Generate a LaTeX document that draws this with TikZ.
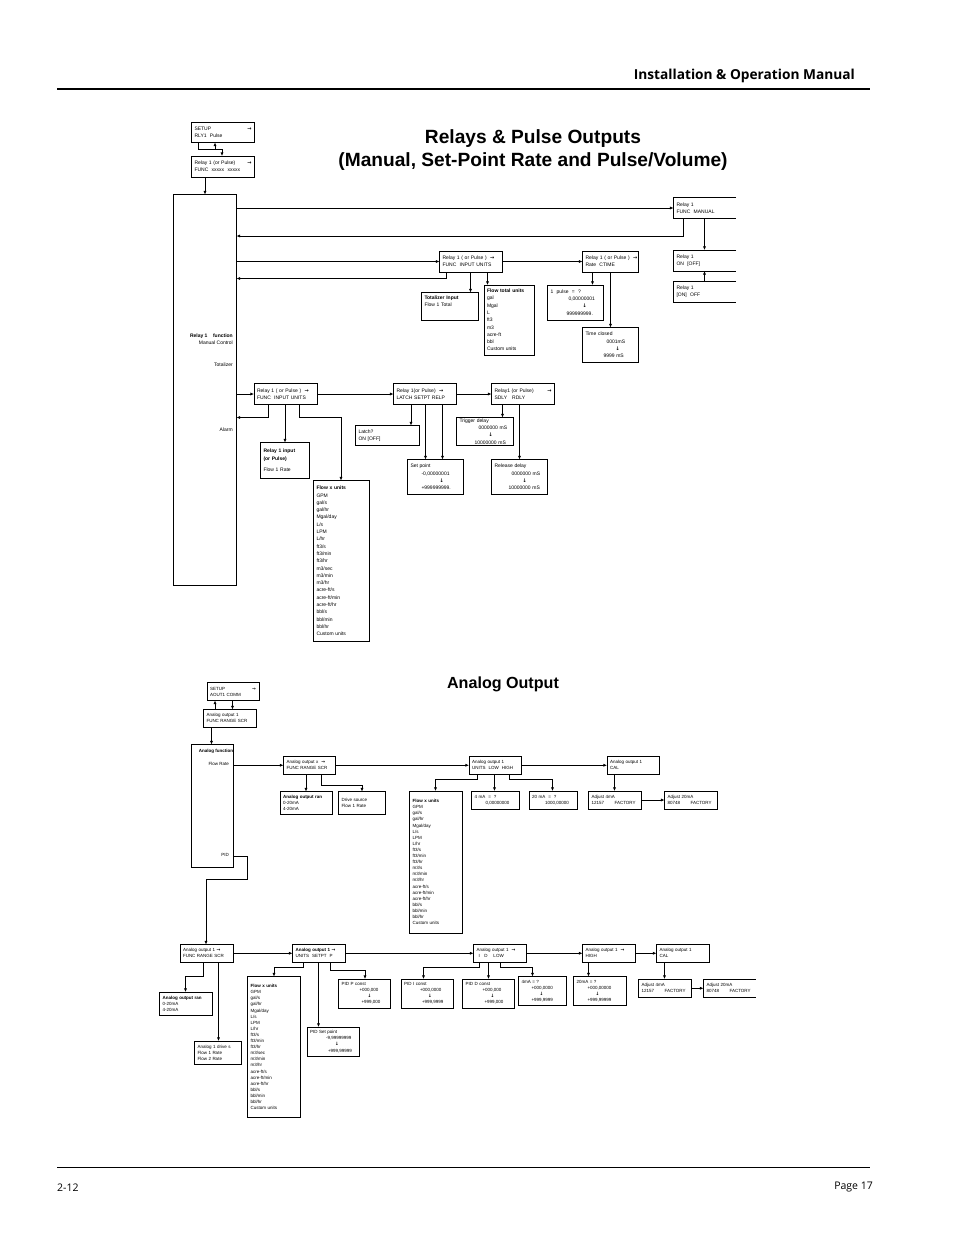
\documentclass[tikz,border=0pt]{standalone}
\usepackage{fontspec}
\usetikzlibrary{arrows.meta}
\setmainfont{Liberation Sans}
\newfontfamily\manualfont{Open Sans}
\newfontfamily\arrowfont{DejaVu Sans}
\newcommand{\relaytext}{\fontsize{5}{7.3}\selectfont}
\newcommand{\analogtext}{\fontsize{4.5}{6.1}\selectfont}
\newcommand{\ind}[1]{\hspace*{#1pt}}
\newcommand{\ra}{{\arrowfont\bfseries →}}
\newcommand{\da}{{\arrowfont\bfseries ↓}}
\tikzset{
  box/.style 2 args={draw,line width=.8pt,anchor=north west,outer sep=0pt,inner xsep=3pt,inner ysep=0pt,
    minimum width=#1pt,minimum height=#2pt,text width={#1pt-6pt},align=left,font=\relaytext},
  abox/.style 2 args={box={#1}{#2},font=\analogtext},
  openbox/.style 2 args={box={#1}{#2},draw=none},
  link/.style={-{Latex[length=3.6pt,width=3.2pt]},line width=.8pt},
  wire/.style={line width=.8pt},
  lab/.style={anchor=east,inner sep=0pt,font=\relaytext},
  alab/.style={anchor=east,inner sep=0pt,font=\analogtext}
}
\begin{document}
\begin{tikzpicture}[x=1pt,y=-1pt]
  \useasboundingbox (0,0) rectangle (954,1235);
  % page furniture
  \node[anchor=east,inner sep=0pt,font=\manualfont\bfseries\fontsize{13.7}{16}\selectfont] (manual) at (855,76) {Installation \& Operation Manual};
  \draw[line width=2pt] (57,89) -- (870,89);
  \draw[line width=.6pt] (57,1167) -- (870,1167);
  \node[anchor=west,inner sep=0pt,font=\manualfont\fontsize{10.5}{12}\selectfont] (pagecode) at (57,1188) {2-12};
  \node[anchor=east,inner sep=0pt,font=\manualfont\fontsize{10.5}{12}\selectfont] (pagenum) at (873,1187) {Page 17};
  % titles
  \node[inner sep=0pt,font=\bfseries\fontsize{19.15}{20}\selectfont] (title1) at (533,139) {Relays \& Pulse Outputs};
  \node[inner sep=0pt,font=\bfseries\fontsize{19.15}{20}\selectfont] (title2) at (533,162) {(Manual, Set-Point Rate and Pulse/Volume)};
  \node[inner sep=0pt,font=\bfseries\fontsize{16.1}{17}\selectfont] (title3) at (503,684) {Analog Output};

  % relay boxes
  \node[box={63}{20.5}] (setup) at (191.5,122) {SETUP\hfill\ra\ind{8}\\RLY1\ \ Pulse};
  \node[box={63}{21}] (rfunc) at (191.5,156) {Relay 1 (or Pulse)\hfill\ra\ind{2}\\FUNC\ \ xxxxx\ \ xxxxx};
  \node[box={63}{390.5}] (big) at (173.5,194.5) {};
  \node[lab,font=\relaytext\bfseries] (lrelay) at (233,336) {Relay 1\ \ \ \ function};
  \node[lab] (lmanual) at (233,343) {Manual Control};
  \node[lab] (ltotal) at (233,365) {Totalizer};
  \node[lab] (lalarm) at (233,430) {Alarm};
  \node[openbox={62.5}{21}] (rman) at (673.5,197.5) {Relay 1\\FUNC\ \ MANUAL};
  \node[box={63}{21}] (rtot) at (439.5,251) {Relay 1 ( or Pulse )\ \ \ra\\FUNC\ \ INPUT UNITS};
  \node[box={56}{21}] (rrate) at (582.5,251) {Relay 1 ( or Pulse )\rlap{\ \ \ra}\\Rate\ \ CTIME};
  \node[openbox={62.5}{21}] (ron) at (673.5,250) {Relay 1\\ON\ \ [OFF]};
  \node[openbox={62.5}{21}] (rdon) at (673.5,281.5) {Relay 1\\{[ON]}\ \ OFF};
  \node[box={57}{27.5}] (totin) at (421.5,292.5) {\textbf{Totalizer Input}\\Flow 1 Total\\[3pt]~};
  \node[box={50}{70}] (ftot) at (484,285) {\textbf{Flow total units}\\gal\\Mgal\\L\\ft3\\m3\\acre-ft\\bbl\\Custom units};
  \node[box={56}{35}] (pulse) at (547.5,285) {1\ \ pulse\ \ =\ \ ?\\\ind{18}0,00000001\\\ind{32}\da\\\ind{16}999999999.};
  \node[box={56}{35}] (closed) at (582.5,327.5) {Time closed\\\ind{21}0001mS\\\ind{30}\da\\\ind{18}9999 mS};
  \node[box={63}{21}] (ralarm) at (254,383.5) {Relay 1 ( or Pulse )\ \ \ra\\FUNC\ \ INPUT UNITS};
  \node[box={63}{21}] (rlatch) at (393.5,383.5) {Relay 1(or Pulse)\ \ \ra\\LATCH SETPT RELP};
  \node[box={63}{21}] (rdly) at (491.5,383.5) {Relay1\ (or Pulse)\hfill\ra\ind{3}\\SDLY\ \ \ RDLY};
  \node[box={49}{36}] (rinput) at (260.5,442.5) {\textbf{Relay 1 input}\\\textbf{(or Pulse)}\\[4pt]Flow 1 Rate};
  \node[box={56}{161}] (funit) at (313.5,480.5) {\textbf{Flow x units}\\GPM\\gal/s\\gal/hr\\Mgal/day\\L/s\\LPM\\L/hr\\ft3/s\\ft3/min\\ft3/hr\\m3/sec\\m3/min\\m3/hr\\acre-ft/s\\acre-ft/min\\acre-ft/hr\\bbl/s\\bbl/min\\bbl/hr\\Custom units};
  \node[box={63.5}{20}] (latch) at (355.5,425.5) {Latch?\\ON [OFF]};
  \node[box={56}{35}] (setpt) at (407.5,459.5) {Set point\\\ind{11}-0,00000001\\\ind{29}\da\\\ind{11}+999999999.};
  \node[box={56.5}{28}] (trig) at (456.5,417.5) {Trigger delay\\\ind{19}0000000 mS\\\ind{29}\da\\\ind{15}10000000 mS};
  \node[box={56}{35}] (rel) at (491.5,459.5) {Release delay\\\ind{17}0000000 mS\\\ind{28}\da\\\ind{14}10000000 mS};

  % relay connectors
  \draw[link] ([xshift=6.5pt]setup.south west) -- ++(0,7) -| ([xshift=30.5pt]rfunc.north west);
  \draw[link] ([xshift=23.5pt,yshift=6.5pt]rfunc.north west) -- ([xshift=23.5pt]setup.south west);
  \draw[link] ([xshift=13.5pt]rfunc.south west) -- ([xshift=31.5pt]big.north west);
  \draw[link] (big.east |- rman.west) -- (rman.west);
  \draw[link] ([xshift=10pt]rman.south west) -- ++(0,17.5) -- (big.east |- 0,236);
  \draw[link] ([xshift=31pt]rman.south west) -- ([xshift=31pt]ron.north west);
  \draw[link] ([xshift=31pt]rdon.north west) -- ([xshift=31pt]ron.south west);
  \draw[link] (big.east |- rtot.west) -- (rtot.west);
  \draw[link] ([xshift=6.5pt]rtot.south west) -- ++(0,6.5) -- (big.east |- 0,278.5);
  \draw[link] (rtot.east) -- (rrate.west);
  \draw[link] ([xshift=31pt]rtot.south west) -- ([xshift=49pt]totin.north west);
  \draw[link] ([xshift=48pt]rtot.south west) -- ([xshift=3.5pt]ftot.north west);
  \draw[link] ([xshift=10pt]rrate.south west) -- ([xshift=45pt]pulse.north west);
  \draw[link] ([xshift=28pt]rrate.south west) -- (closed.north);
  \draw[link] (big.east |- ralarm.west) -- (ralarm.west);
  \draw[link] ([xshift=14.5pt]ralarm.south west) -- ++(0,13) -- (big.east |- 0,417.5);
  \draw[link] ([xshift=31pt]ralarm.south west) -- ([xshift=24.5pt]rinput.north west);
  \draw[link] ([xshift=45pt]ralarm.south west) -- ++(0,13) -| ([xshift=27.5pt]funit.north west);
  \draw[link] (ralarm.east) -- (rlatch.west);
  \draw[link] (rlatch.east) -- (rdly.west);
  \draw[link] ([xshift=17.5pt]rlatch.south west) -- ([xshift=55.5pt]latch.north west);
  \draw[link] ([xshift=32pt]rlatch.south west) -- ([xshift=18pt]setpt.north west);
  \draw[link] ([xshift=49pt]rlatch.south west) -- ([xshift=35pt]setpt.north west);
  \draw[link] ([xshift=11pt]rdly.south west) -- ([xshift=46pt]trig.north west);
  \draw[link] ([xshift=28pt]rdly.south west) -- (rel.north);

  % analog boxes
  \node[abox={52}{18}] (asetup) at (207,682.5) {SETUP\hfill\ra\ind{9}\\AOUT1 COMM};
  \node[abox={53}{17.5}] (afunc) at (203.5,709.5) {Analog output 1\\FUNC RANGE SCR};
  \node[abox={42}{123}] (abig) at (191.5,744.5) {};
  \node[alab,font=\analogtext\bfseries] (lanalog) at (233.3,751) {Analog function};
  \node[alab] (lrate) at (229,763.5) {Flow Rate};
  \node[alab] (lpid) at (229,855) {PID};
  \node[abox={52}{17.5}] (aoutx) at (283.5,756.5) {Analog output x\ \ \ra\\FUNC RANGE SCR};
  \node[abox={52}{17.5}] (aunits) at (469,756.5) {Analog output 1\\UNITS\ \ LOW\ \ HIGH};
  \node[abox={52.5}{17.5}] (acal) at (607,756.5) {Analog output 1\\CAL};
  \node[abox={52.5}{23}] (arange) at (280,791.5) {\textbf{Analog output ran}\\0-20mA\\4-20mA};
  \node[abox={47}{23}] (adrive) at (338.5,791.5) {Drive source\\Flow 1 Rate};
  \node[abox={53}{142}] (aflow) at (409.5,791) {\textbf{Flow x units}\\GPM\\gal/s\\gal/hr\\Mgal/day\\L/s\\LPM\\L/hr\\ft3/s\\ft3/min\\ft3/hr\\m3/s\\m3/min\\m3/hr\\acre-ft/s\\acre-ft/min\\acre-ft/hr\\bbl/s\\bbl/min\\bbl/hr\\Custom units};
  \node[abox={47.5}{18}] (afour) at (471.5,791) {4 mA\ \ =\ \ ?\\\ind{11}0,00000000};
  \node[abox={48}{18}] (atwenty) at (529,791) {20 mA\ \ =\ \ ?\\\ind{13}1000,00000};
  \node[abox={53}{18}] (aadja) at (588.5,791) {Adjust 4mA\\12157\ \ \ \ \ \ \ FACTORY};
  \node[abox={53}{18}] (aadjb) at (664.5,791) {Adjust 20mA\\80748\ \ \ \ \ \ \ FACTORY};
  \node[abox={53}{17.5}] (arel) at (180,944.5) {Analog output 1 \ra\\FUNC RANGE SCR};
  \node[abox={52.5}{17.5}] (apid) at (292.5,944.5) {\textbf{Analog output 1} \ra\\UNITS\ \ SETPT\ \ P};
  \node[abox={53}{17.5}] (ai) at (473.5,944.5) {Analog output 1\ \ \ra\\\ind{2}I\ \ \ D\ \ \ \ LOW};
  \node[abox={52.5}{17.5}] (ahigh) at (582.5,944.5) {Analog output 1\ \ \ra\\HIGH};
  \node[abox={53}{17.5}] (acalb) at (656.5,944.5) {Analog output 1\\CAL};
  \node[abox={53}{23}] (arangeb) at (159.5,992) {\textbf{Analog output ran}\\0-20mA\\4-20mA};
  \node[abox={47}{23.5}] (adrv) at (194.5,1041) {Analog 1 drive s\\Flow 1 Rate\\Flow 2 Rate};
  \node[abox={53}{141}] (pflow) at (247.5,976.5) {\textbf{Flow x units}\\GPM\\gal/s\\gal/hr\\Mgal/day\\L/s\\LPM\\L/hr\\ft3/s\\ft3/min\\ft3/hr\\m3/sec\\m3/min\\m3/hr\\acre-ft/s\\acre-ft/min\\acre-ft/hr\\bbl/s\\bbl/min\\bbl/hr\\Custom units};
  \node[abox={52.5}{29}] (pset) at (307,1027) {PID Set point\\\ind{16}-9,99999999\\\ind{25}\da\\\ind{18}+999,99999};
  \node[abox={52}{29}] (pconp) at (338.5,979) {PID P const\\\ind{18}+000,000\\\ind{26}\da\\\ind{20}+999,000};
  \node[abox={52.5}{29}] (pconi) at (401,979) {PID I const\\\ind{16}+000,0000\\\ind{24}\da\\\ind{18}+999,9999};
  \node[abox={52}{29}] (pcond) at (462.5,979) {PID D const\\\ind{17}+000,000\\\ind{25}\da\\\ind{19}+999,000};
  \node[abox={47.5}{29}] (afourb) at (518.5,976.5) {4mA = ?\\\ind{10}+000,0000\\\ind{18}\da\\\ind{10}+999,9999};
  \node[abox={53}{29}] (atwentyb) at (573.5,976.5) {20mA = ?\\\ind{11}+000,00000\\\ind{19}\da\\\ind{11}+999,99999};
  \node[abox={53}{18.5}] (padja) at (638.5,979) {Adjust 4mA\\12157\ \ \ \ \ \ \ FACTORY};
  \node[openbox={52}{18.5},font=\analogtext] (padjb) at (703.5,979) {Adjust 20mA\\80748\ \ \ \ \ \ \ FACTORY};

  % boxes with the right edge cut off
  \foreach \n in {rman,ron,rdon,padjb}
    \draw[wire] (\n.north east) -- (\n.north west) -- (\n.south west) -- (\n.south east);

  % analog connectors
  \draw[link] ([xshift=11.5pt]afunc.north west) -- ([xshift=8pt]asetup.south west);
  \draw[link] ([xshift=25.5pt]asetup.south west) -- ([xshift=29pt]afunc.north west);
  \draw[link] ([xshift=8pt]afunc.south west) -- ([xshift=20pt]abig.north west);
  \draw[link] (abig.east |- aoutx.west) -- (aoutx.west);
  \draw[link] ([yshift=11pt]abig.south east) -- ++(14,0) -- ++(0,23) -| ([xshift=26pt]arel.north west);
  \draw[link] ([xshift=22.5pt]aoutx.south west) -- ([xshift=26pt]arange.north west);
  \draw[link] ([xshift=38pt]aoutx.south west) -- ++(0,11) -| (adrive.north);
  \draw[link] (aoutx.east) -- (aunits.west);
  \draw[link] (aunits.east) -- (acal.west);
  \draw[link] ([xshift=8pt]aunits.south west) -- ++(0,5.5) -| ([xshift=26pt]aflow.north west);
  \draw[link] ([xshift=25.5pt]aunits.south west) -- ([xshift=23pt]afour.north west);
  \draw[link] ([xshift=40.5pt]aunits.south west) -- ++(0,5.5) -| ([xshift=23.5pt]atwenty.north west);
  \draw[link] ([xshift=7.5pt]acal.south west) -- ([xshift=26pt]aadja.north west);
  \draw[link] (aadja.east) -- (aadjb.west);
  \draw[link] (arel.east) -- (apid.west);
  \draw[link] (apid.east) -- (ai.west);
  \draw[link] (ai.east) -- (ahigh.west);
  \draw[link] (ahigh.east) -- (acalb.west);
  \draw[link] ([xshift=23.5pt]arel.south west) -- ++(0,14.5) -| ([xshift=26pt]arangeb.north west);
  \draw[link] ([xshift=38.5pt]arel.south west) -- ([xshift=24pt]adrv.north west);
  \draw[link] ([xshift=11pt]apid.south west) -- ++(0,5) -| ([xshift=26.5pt]pflow.north west);
  \draw[link] ([xshift=26pt]apid.south west) -- ([xshift=11.5pt]pset.north west);
  \draw[link] ([xshift=38pt]apid.south west) -- ++(0,8) -| ([xshift=26.5pt]pconp.north west);
  \draw[link] ([xshift=6pt]ai.south west) -- ++(0,5.5) -| ([xshift=22.5pt]pconi.north west);
  \draw[link] ([xshift=15pt]ai.south west) -- ([xshift=26pt]pcond.north west);
  \draw[link] ([xshift=27pt]ai.south west) -- ++(0,5.5) -| ([xshift=14pt]afourb.north west);
  \draw[link] ([xshift=6pt]ahigh.south west) -- ([xshift=15pt]atwentyb.north west);
  \draw[link] ([xshift=8pt]acalb.south west) -- ([xshift=26pt]padja.north west);
  \draw[link] (padja.east) -- (padjb.west);
\end{tikzpicture}
\end{document}
